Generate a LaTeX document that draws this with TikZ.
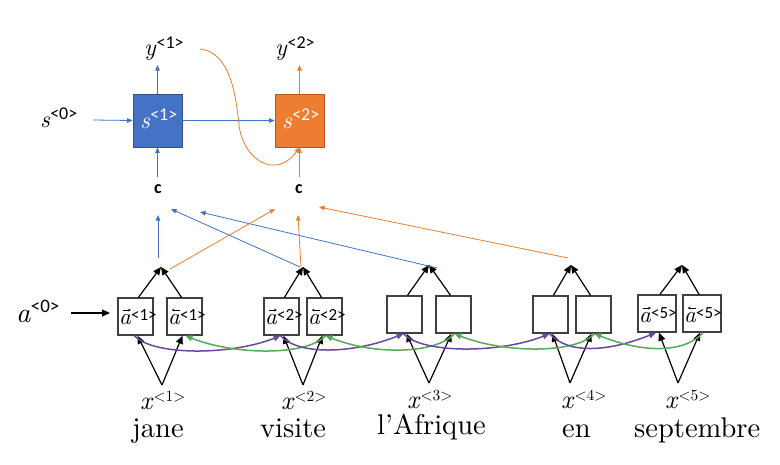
\documentclass[tikz,border=0pt]{standalone}
\usepackage{fontspec}
\usepackage{graphicx}
\usetikzlibrary{arrows.meta}
\setmainfont{lmroman10-regular}[Extension=.otf,ItalicFont=lmroman10-italic,BoldFont=lmroman10-bold]
\newfontfamily\supf{Carlito}
\definecolor{myblue}{HTML}{4472C4}
\definecolor{myorange}{HTML}{ED7D31}
\definecolor{myblueb}{HTML}{2F528F}
\definecolor{myorangeb}{HTML}{AE5A21}
\definecolor{mypurple}{HTML}{6A48A0}
\definecolor{mygreen}{HTML}{55AA5A}
% letter, number, letter size, sup size, raise
\newcommand\lab[5]{{\fontsize{#3}{#3}\selectfont\itshape #1\/}\raisebox{#5}{\supf\fontsize{#4}{#4}\selectfont<#2>}}
\newcommand\labx[5]{{\fontsize{#3}{#3}\selectfont\itshape #1\/}\raisebox{#5}{\fontsize{#4}{#4}\selectfont<#2>}}
\tikzset{
  cell/.style={draw=black!75,line width=1.4pt,fill=white,minimum width=35pt,minimum height=37pt,inner sep=0pt},
  dcell/.style={draw=#1b,line width=0.8pt,fill=#1,minimum width=49pt,minimum height=53pt,inner sep=0pt},
  blk/.style={draw=black,line width=1.2pt,-{Triangle[length=8pt,width=7pt]}},
  bl/.style={draw=myblue,line width=0.8pt,-{Triangle[length=5.5pt,width=4.5pt]}},
  org/.style={draw=myorange,line width=0.8pt,-{Triangle[length=5.5pt,width=4.5pt]}},
  purp/.style={draw=mypurple,line width=1.5pt,-{Triangle[length=7pt,width=6pt]}},
  grn/.style={draw=mygreen,line width=1.5pt,-{Triangle[length=7pt,width=6pt]}},
  acc/.style={draw=black,line width=0.6pt,-{Stealth[length=2.6pt,width=2.8pt]}},
  bw/.style={anchor=base west,inner sep=0pt},
}
\begin{document}
\begin{tikzpicture}[x=1pt,y=-1pt]
\fill[white] (0,0) rectangle (780,464);
\useasboundingbox (0,0) rectangle (780,464);

% ---------- decoder ----------
\node[dcell=myblue] (s1) at (157.5,120.5) {};
\node[dcell=myorange] (s2) at (299.5,120.5) {};
\node[bw,text=white] (s1l) at (140,128) {\lab{s}{1}{24}{18}{8pt}};
\node[bw,text=white] (s2l) at (282,128) {\lab{s}{2}{24}{18}{8pt}};
\node[bw] (s0) at (40,127) {\lab{s}{0}{24}{18}{8pt}};
\node[bw] (y1) at (144,55) {\lab{y}{1}{24}{18}{7pt}};
\node[bw] (y2) at (275,55) {\lab{y}{2}{24}{18}{7pt}};
\node[inner sep=0pt] (c1) at (158,189) {\supf\bfseries\fontsize{18}{18}\selectfont c};
\node[inner sep=0pt] (c2) at (299,189) {\supf\bfseries\fontsize{18}{18}\selectfont c};

\coordinate (s0e) at (93,120);
\coordinate (y1a) at (157.5,65);
\coordinate (y2a) at (299.5,65);
\coordinate (c1a) at (157.5,177);
\coordinate (c2a) at (299.5,177);
\coordinate (y1cur) at (200,49);

\draw[bl] (s0e) -- (s1.west);
\draw[bl] (s1.east) -- (s2.west);
\draw[bl] (s1.north) -- (y1a);
\draw[org] (s2.north) -- (y2a);
\draw[bl] (c1a) -- (s1.south);
\draw[org] (c2a) -- (s2.south);
\draw[org] (y1cur) .. controls (230,52) and (236,95) .. (239,125) .. controls (243,160) and (276,180) .. (s2.south);

% ---------- encoder cells ----------
\node[cell] (a1f) at (135.5,316.5) {};
\node[cell] (a1b) at (184.5,316.5) {};
\node[cell] (a2f) at (281.5,316.5) {};
\node[cell] (a2b) at (324.5,316.5) {};
\node[cell] (a3f) at (404.5,314.5) {};
\node[cell] (a3b) at (453.5,314.5) {};
\node[cell] (a4f) at (550.5,314.5) {};
\node[cell] (a4b) at (593.5,314.5) {};
\node[cell,minimum width=38pt] (a5f) at (657,313.5) {};
\node[cell,minimum width=38pt] (a5b) at (702,313.5) {};

\foreach \k/\d in {1/7.5,2/7.5,5/8.5}{
  \node[bw] (a\k fl) at ([xshift=1.5pt,yshift=-\d pt]a\k f.west) {\lab{a}{\k}{23}{17}{4pt}};
  \node[bw] (a\k bl) at ([xshift=1.5pt,yshift=-\d pt]a\k b.west) {\lab{a}{\k}{23}{17}{4pt}};
  \draw[acc] ([xshift=4pt,yshift=14pt]a\k fl.base west) -- ([xshift=12pt,yshift=14pt]a\k fl.base west);
  \draw[acc] ([xshift=12pt,yshift=14pt]a\k bl.base west) -- ([xshift=4pt,yshift=14pt]a\k bl.base west);
}

% a<0>
\node[bw] (a0) at (16,322) {\lab{a}{0}{28}{19}{10pt}};
\coordinate (a0s) at (71,313);
\coordinate (a0e) at (110,313);
\draw[blk] (a0s) -- (a0e);

% merge points
\coordinate (m1) at (161,267);
\coordinate (m2) at (303,267);
\coordinate (m3) at (429,265);
\coordinate (m4) at (571,265);
\coordinate (m5) at (682,265);
\foreach \k in {1,...,5}{
  \draw[blk] ([xshift=3pt]a\k f.north) -- (m\k);
  \draw[blk] ([xshift=-3pt]a\k b.north) -- (m\k);
}

% inputs
\node[bw] (x1) at (140,409) {\labx{x}{1}{26}{15.5}{8pt}};
\node[bw] (x2) at (281,409) {\labx{x}{2}{26}{15.5}{8pt}};
\node[bw] (x3) at (407,408) {\labx{x}{3}{26}{15.5}{8pt}};
\node[bw] (x4) at (561,408) {\labx{x}{4}{26}{15.5}{8pt}};
\node[bw] (x5) at (665,408) {\labx{x}{5}{26}{15.5}{8pt}};
\node[bw] (w1) at (132,437) {\fontsize{28.5}{28.5}\selectfont jane};
\node[bw] (w2) at (260,437) {\fontsize{28.5}{28.5}\selectfont visite};
\node[bw] (w3) at (377,434) {\fontsize{28.5}{28.5}\selectfont l’Afrique};
\node[bw] (w4) at (562,437) {\fontsize{28.5}{28.5}\selectfont en};
\node[bw] (w5) at (634,437) {\fontsize{28.5}{28.5}\selectfont septembre};

\coordinate (p1) at (162,385);
\coordinate (p2) at (303,385);
\coordinate (p3) at (429,383);
\coordinate (p4) at (570,383);
\coordinate (p5) at (678,383);
\foreach \k in {1,...,5}{
  \draw[blk] (p\k) -- ([xshift=2pt]a\k f.south);
  \draw[blk] (p\k) -- ([xshift=-2pt]a\k b.south);
}

% recurrent arcs
\foreach \k/\n in {1/2,2/3,3/4,4/5}{
  \draw[purp] ([xshift=-1pt]a\k f.south) .. controls +(18,20) and +(-50,20) .. ([xshift=-1pt]a\n f.south);
  \draw[grn] ([xshift=1pt]a\n b.south) .. controls +(-18,20) and +(50,20) .. ([xshift=1pt]a\k b.south);
}

% attention connectors
\coordinate (b1s) at (158,258); \coordinate (b1e) at (158,215);
\coordinate (b2s) at (300,267); \coordinate (b2e) at (171,209);
\coordinate (b3s) at (437,268); \coordinate (b3e) at (200,212);
\coordinate (o1s) at (170,269); \coordinate (o1e) at (275,209);
\coordinate (o2s) at (301,267); \coordinate (o2e) at (298,215);
\coordinate (o3s) at (568,258); \coordinate (o3e) at (319,207);
\draw[bl] (b1s) -- (b1e);
\draw[bl] (b2s) -- (b2e);
\draw[bl] (b3s) -- (b3e);
\draw[org] (o1s) -- (o1e);
\draw[org] (o2s) -- (o2e);
\draw[org] (o3s) -- (o3e);
\end{tikzpicture}
\end{document}
